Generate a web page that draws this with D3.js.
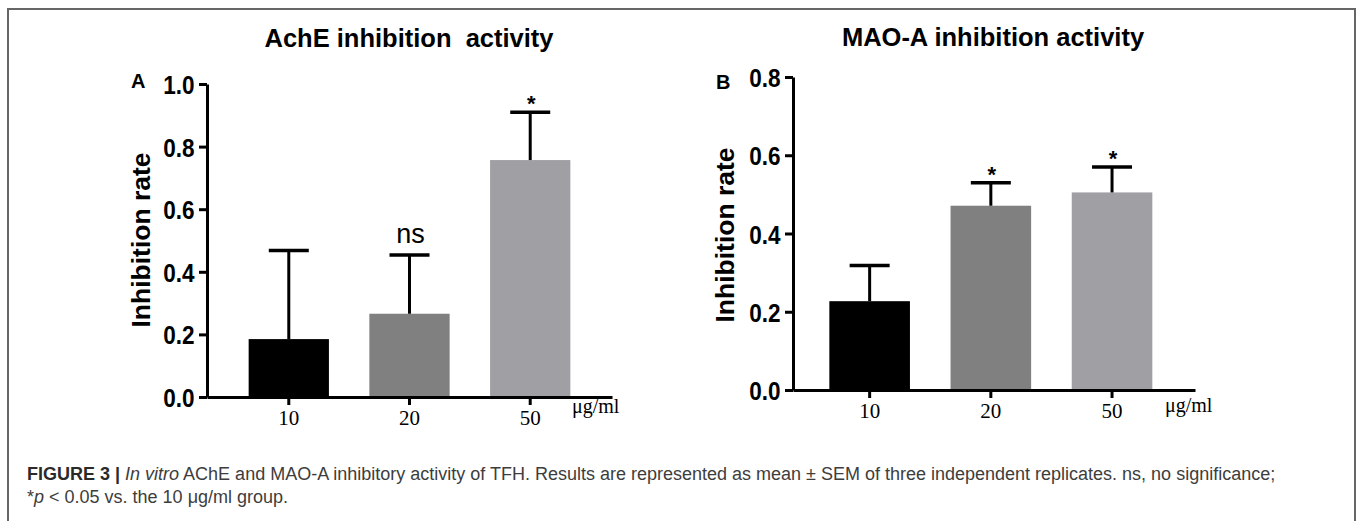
<!DOCTYPE html>
<html><head><meta charset="utf-8">
<script src="https://cdn.jsdelivr.net/npm/d3@7"></script>
<style>
html,body{margin:0;padding:0;background:#fff;}
svg{display:block;}
</style></head>
<body><svg id="chart" width="1358" height="521"></svg>
<script>
// ---- data ----
const categories = ["10", "20", "50"];
const acheMean = [0.185, 0.266, 0.757];
const acheSem  = [0.283, 0.188, 0.153];
const acheMarks = ["", "ns", "*"];
const acheTicks = [0, 0.2, 0.4, 0.6, 0.8, 1.0];
const maoMean = [0.227, 0.471, 0.505];
const maoSem  = [0.091, 0.059, 0.065];
const maoMarks = ["", "*", "*"];
const maoTicks = [0, 0.2, 0.4, 0.6, 0.8];
const barColors = ["#000000", "#808080", "#a0a0a4"];
const unitLabel = "μg/ml";
const yLabel = "Inhibition rate";

const svg = d3.select("#chart");

// frame
svg.append("path").attr("d", "M8,521 V9 H1355 V521")
  .attr("fill", "none").attr("stroke", "#666").attr("stroke-width", 2);

function drawPanel(p) {
  const y = d3.scaleLinear().domain([0, p.ymax]).range([p.y0, p.y1]);
  const x = d3.scaleBand().domain(categories).range([p.x0, p.x1])
    .paddingInner(0.335).paddingOuter(p.po).align(p.align);
  const g = svg.append("g");

  // bars
  g.selectAll("rect.bar").data(categories).join("rect")
    .attr("x", d => x(d)).attr("width", x.bandwidth())
    .attr("y", (d, i) => y(p.mean[i]))
    .attr("height", (d, i) => y(0) - y(p.mean[i]))
    .attr("fill", (d, i) => barColors[i]);

  // error bars (upper)
  const capW = 40;
  g.selectAll("line.err").data(categories).join("line")
    .attr("x1", d => x(d) + x.bandwidth() / 2).attr("x2", d => x(d) + x.bandwidth() / 2)
    .attr("y1", (d, i) => y(p.mean[i])).attr("y2", (d, i) => y(p.mean[i] + p.sem[i]))
    .attr("stroke", "#000").attr("stroke-width", 3);
  g.selectAll("line.cap").data(categories).join("line")
    .attr("x1", d => x(d) + x.bandwidth() / 2 - capW / 2).attr("x2", d => x(d) + x.bandwidth() / 2 + capW / 2)
    .attr("y1", (d, i) => y(p.mean[i] + p.sem[i])).attr("y2", (d, i) => y(p.mean[i] + p.sem[i]))
    .attr("stroke", "#000").attr("stroke-width", 3.5);

  // significance marks
  g.selectAll("text.mark").data(categories).join("text")
    .attr("x", d => x(d) + x.bandwidth() / 2 + 1)
    .attr("y", (d, i) => y(p.mean[i] + p.sem[i]) - (p.marks[i] === "ns" ? 12 : 1))
    .attr("text-anchor", "middle")
    .attr("font-family", "Liberation Sans, Arial, sans-serif")
    .attr("font-size", (d, i) => p.marks[i] === "ns" ? 27 : 22)
    .attr("font-weight", (d, i) => p.marks[i] === "ns" ? "normal" : "bold")
    .attr("fill", "#000")
    .text((d, i) => p.marks[i]);

  // y axis
  const sx = 0.85;
  const ya = g.append("g").attr("transform", `translate(${p.x0},0)`)
    .call(d3.axisLeft(y).tickValues(p.ticks).tickFormat(d3.format(".1f")).tickSize(8).tickSizeOuter(0).tickPadding(5));
  ya.select(".domain").attr("stroke", "#000").attr("stroke-width", 3);
  ya.selectAll(".tick line").attr("stroke", "#000").attr("stroke-width", 3);
  ya.selectAll(".tick text")
    .attr("font-family", "Liberation Sans, Arial, sans-serif")
    .attr("font-weight", "bold").attr("font-size", 26.5).attr("fill", "#000")
    .attr("dy", "0.36em")
    .attr("x", -12.5 / sx).attr("transform", `scale(${sx},1)`);

  // x axis
  const xa = g.append("g").attr("transform", `translate(0,${p.y0})`)
    .call(d3.axisBottom(x).tickSize(8).tickSizeOuter(0).tickPadding(5));
  xa.select(".domain").attr("stroke", "#000").attr("stroke-width", 3);
  xa.selectAll(".tick line").attr("stroke", "#000").attr("stroke-width", 3);
  xa.selectAll(".tick text")
    .attr("font-family", "Liberation Serif, Times New Roman, serif")
    .attr("font-size", 21).attr("fill", "#000");

  // unit label
  g.append("text").attr("x", p.unitX).attr("y", p.unitY)
    .attr("font-family", "Liberation Serif, Times New Roman, serif")
    .attr("font-size", 20).attr("fill", "#000").text(unitLabel);

  // y label
  g.append("text")
    .attr("transform", `translate(${p.ylabX},${p.ylabY}) rotate(-90)`)
    .attr("text-anchor", "middle")
    .attr("font-family", "Liberation Sans, Arial, sans-serif")
    .attr("font-weight", "bold").attr("font-size", 26.5).attr("fill", "#000")
    .text(yLabel);

  // title
  g.append("text").attr("x", p.titleX).attr("y", p.titleY)
    .attr("text-anchor", "middle")
    .attr("font-family", "Liberation Sans, Arial, sans-serif")
    .attr("font-weight", "bold").attr("font-size", 25.5).attr("fill", "#000")
    .text(p.title);

  // panel letter
  g.append("text").attr("x", p.letterX).attr("y", p.letterY)
    .attr("font-family", "Liberation Sans, Arial, sans-serif")
    .attr("font-weight", "bold").attr("font-size", 20).attr("fill", "#000")
    .text(p.letter);
}

drawPanel({
  mean: acheMean, sem: acheSem, marks: acheMarks, ticks: acheTicks, ymax: 1.0,
  x0: 207, x1: 612, y0: 397, y1: 84, po: 0.345, align: 0.5,
  unitX: 572, unitY: 413, ylabX: 150, ylabY: 240,
  title: "AchE inhibition\u00a0\u00a0activity", titleX: 409, titleY: 47,
  letter: "A", letterX: 131, letterY: 88
});
drawPanel({
  mean: maoMean, sem: maoSem, marks: maoMarks, ticks: maoTicks, ymax: 0.8,
  x0: 793, x1: 1195, y0: 390, y1: 77, po: 0.326, align: 0.46,
  unitX: 1165, unitY: 412, ylabX: 734, ylabY: 235,
  title: "MAO-A inhibition activity", titleX: 993, titleY: 46,
  letter: "B", letterX: 716, letterY: 89
});

// caption
const cap = svg.append("g").attr("font-family", "Liberation Sans, Arial, sans-serif")
  .attr("font-size", 18).attr("fill", "#3d3d3d");
const l1 = cap.append("text").attr("x", 27).attr("y", 480);
l1.append("tspan").attr("font-weight", "bold").attr("fill", "#2a2a2a").text("FIGURE 3 | ");
l1.append("tspan").attr("font-style", "italic").text("In vitro");
l1.append("tspan").text(" AChE and MAO-A inhibitory activity of TFH. Results are represented as mean \u00b1 SEM of three independent replicates. ns, no significance;");
const l2 = cap.append("text").attr("x", 27).attr("y", 503);
l2.append("tspan").text("*");
l2.append("tspan").attr("font-style", "italic").text("p");
l2.append("tspan").text(" < 0.05 vs. the 10 \u03bcg/ml group.");
</script></body></html>
